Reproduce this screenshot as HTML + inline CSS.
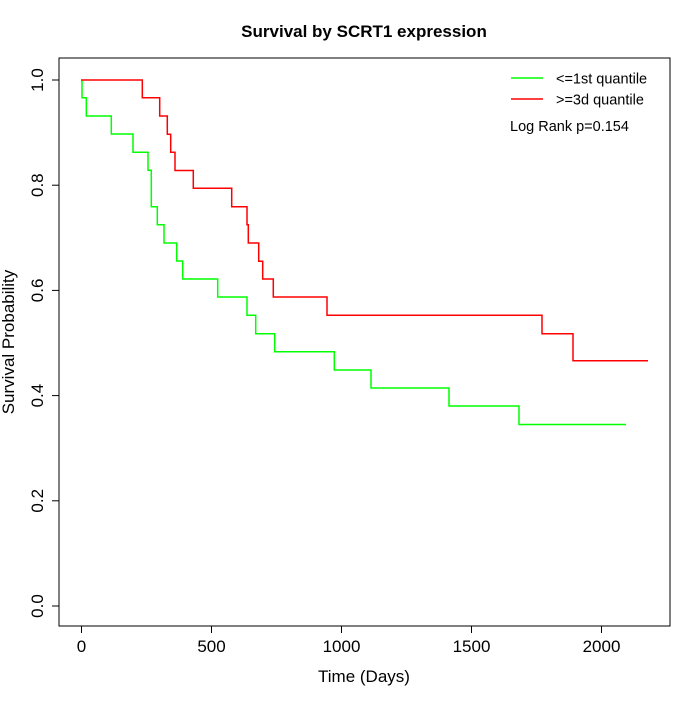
<!DOCTYPE html>
<html><head><style>body{margin:0;background:#fff}</style></head><body>
<svg width="700" height="700" xmlns="http://www.w3.org/2000/svg" font-family="Liberation Sans, sans-serif">
<rect width="700" height="700" fill="#fff"/>
<text x="364" y="37" font-size="17" font-weight="bold" text-anchor="middle">Survival by SCRT1 expression</text>
<rect x="59" y="58" width="611" height="568" fill="none" stroke="#000" stroke-width="1"/>
<g stroke="#000" stroke-width="1">
<line x1="81.5" y1="626" x2="81.5" y2="633"/><line x1="211.5" y1="626" x2="211.5" y2="633"/><line x1="341.5" y1="626" x2="341.5" y2="633"/><line x1="471.5" y1="626" x2="471.5" y2="633"/><line x1="601.5" y1="626" x2="601.5" y2="633"/>
<line x1="52" y1="606" x2="59" y2="606"/><line x1="52" y1="500.8" x2="59" y2="500.8"/><line x1="52" y1="395.6" x2="59" y2="395.6"/><line x1="52" y1="290.4" x2="59" y2="290.4"/><line x1="52" y1="185.2" x2="59" y2="185.2"/><line x1="52" y1="80" x2="59" y2="80"/>
</g>
<g font-size="17" text-anchor="middle">
<text x="81.5" y="652">0</text><text x="211.5" y="652">500</text><text x="341.5" y="652">1000</text><text x="471.5" y="652">1500</text><text x="601.5" y="652">2000</text>
<text transform="translate(43,606) rotate(-90)">0.0</text>
<text transform="translate(43,500.8) rotate(-90)">0.2</text>
<text transform="translate(43,395.6) rotate(-90)">0.4</text>
<text transform="translate(43,290.4) rotate(-90)">0.6</text>
<text transform="translate(43,185.2) rotate(-90)">0.8</text>
<text transform="translate(43,80) rotate(-90)">1.0</text>
<text x="364" y="682">Time (Days)</text>
<text transform="translate(14,342) rotate(-90)">Survival Probability</text>
</g>
<polyline fill="none" stroke="#00ff00" stroke-width="1.5" points="82,80 82,97.7 86.3,97.7 86.3,116 111.3,116 111.3,134 133,134 133,152.3 148,152.3 148,170.3 151.3,170.3 151.3,206.7 157.3,206.7 157.3,224.7 164,224.7 164,243 176.7,243 176.7,261 182.7,261 182.7,279 217.7,279 217.7,297 247,297 247,315.3 255.7,315.3 255.7,333.7 274.7,333.7 274.7,351.7 334.3,351.7 334.3,370 371,370 371,388 449,388 449,406 519,406 519,424.5 626,424.5"/>
<polyline fill="none" stroke="#ff0000" stroke-width="1.5" points="81,80 142.3,80 142.3,97.7 159.7,97.7 159.7,116 167.3,116 167.3,134.3 170.7,134.3 170.7,152.3 175,152.3 175,170.5 193.3,170.5 193.3,188.3 231.7,188.3 231.7,206.7 247,206.7 247,224.7 248.3,224.7 248.3,243 258.7,243 258.7,261.3 262.7,261.3 262.7,279 273.3,279 273.3,297 327,297 327,315.3 542,315.3 542,333.7 573,333.7 573,360.7 648,360.7"/>
<line x1="511" y1="78" x2="543" y2="78" stroke="#00ff00" stroke-width="1.5"/>
<line x1="511" y1="99" x2="543" y2="99" stroke="#ff0000" stroke-width="1.5"/>
<g font-size="14.5">
<text x="556" y="83.5">&lt;=1st quantile</text>
<text x="556" y="104.5">&gt;=3d quantile</text>
<text x="510" y="131">Log Rank p=0.154</text>
</g>
</svg>
</body></html>
